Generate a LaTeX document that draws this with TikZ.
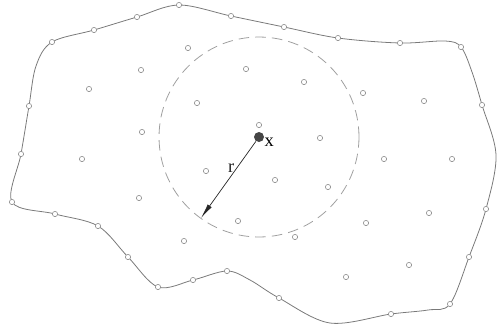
\documentclass[tikz,border=0pt]{standalone}
\usepackage{fontspec}
\setmainfont{Liberation Serif}
\usetikzlibrary{positioning,arrows.meta}

\begin{document}
\begin{tikzpicture}[x=0.02cm, y=-0.02cm, thin,
        sample/.style={draw=gray!90, line width=0.35pt, circle, inner sep=0, minimum size=0.105cm},
        border/.style={draw=gray!95!black, line width=0.45pt},
        reach/.style={draw=gray!75, dash pattern=on 6pt off 3.5pt, line width=0.45pt}]
    \useasboundingbox (0,0) rectangle (497,329);

    % outer border of the region
    \draw[border] plot[smooth cycle, tension=0.55] coordinates {
        (179,5) (231,16) (284,27) (338,38) (400,43) (445,41) (461,47) (472,72) (482,105)
        (496,155) (486,209) (469,257) (450,304) (428,310) (391,314) (330,323) (279,298)
        (250,280) (227,271) (193,280) (158,287) (128,257) (98,226) (55,214) (12,202)
        (21,154) (29,106) (36,66) (52,42) (94,30) (137,17)};
    \foreach \p [count=\i] in {(179,5),(231,16),(284,27),(338,38),(400,43),(461,47),(482,105),
        (486,209),(469,257),(450,304),(391,314),(279,298),(227,271),(193,280),(158,287),
        (128,257),(98,226),(55,214),(12,202),(21,154),(29,106),(52,42),(94,30),(137,17)}
        \node[sample, fill=white] (b\i) at \p {};

    % samples inside
    \foreach \p [count=\i] in {(188,48),(141,70),(246,69),(89,89),(197,103),(142,132),(82,159),
        (304,82),(363,93),(424,101),(259,125),(320,138),(384,159),(452,159),(139,198),
        (206,171),(238,221),(184,241),(275,180),(328,187),(429,213),(366,223),(295,237),
        (409,265),(346,277)}
        \node[sample] (s\i) at \p {};

    % point x and its neighbourhood
    \node[circle, fill=gray!55!black, inner sep=0, minimum size=0.2cm] (x) at (259,137) {};
    \draw[reach] (x.center) circle[radius=2cm];
    \coordinate (rim) at (201,218);
    \node[right=-1pt of x, yshift=-3pt, inner sep=1pt, font=\fontsize{10.5}{12}\selectfont] (xlab) {x};

    \draw[-{Latex[length=8.5pt,width=2.8pt]}, line width=0.4pt, black!85] (x) -- node[pos=0.45, above, inner sep=1.5pt, font=\fontsize{10.5}{12}\selectfont] (rlab) {r} (rim);
\end{tikzpicture}
\end{document}
